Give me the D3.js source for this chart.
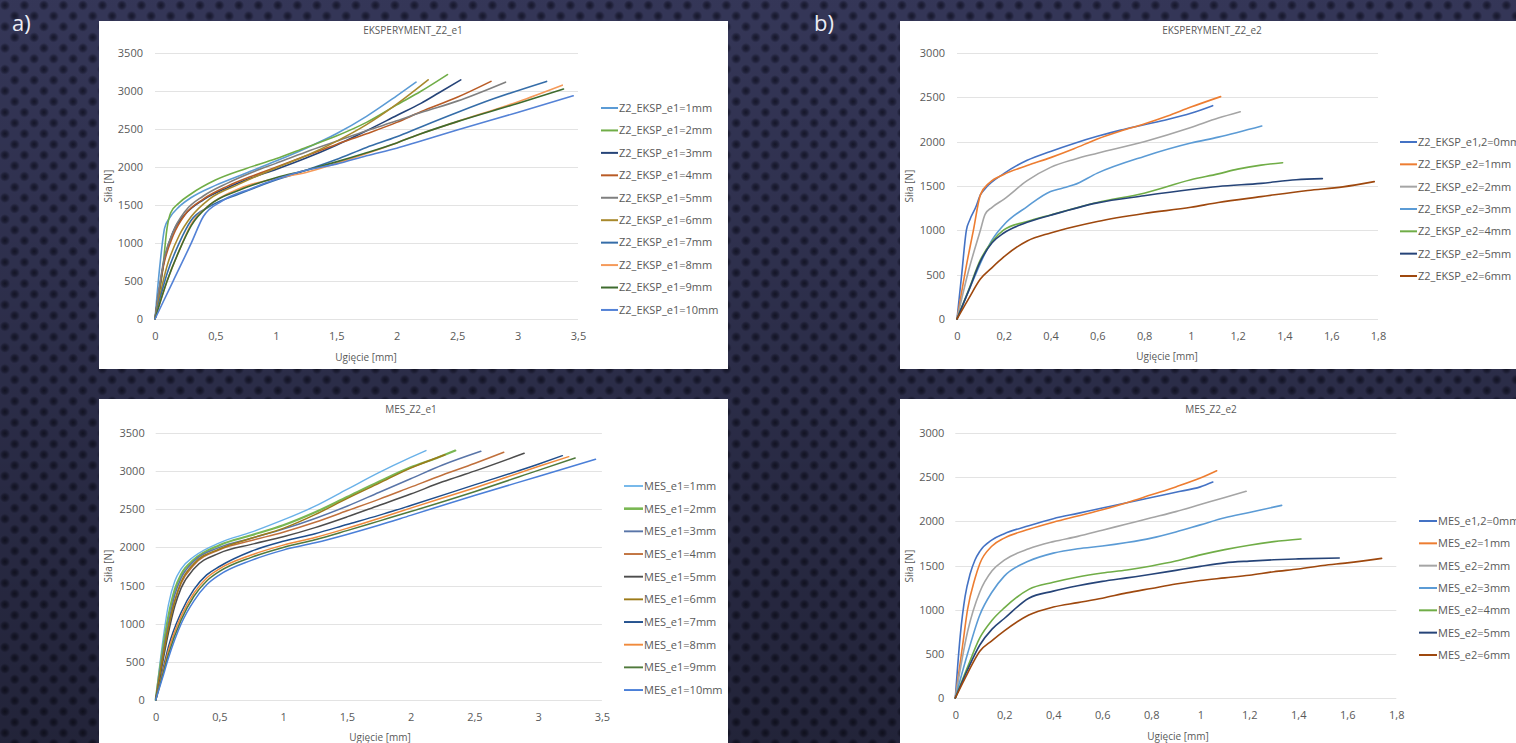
<!DOCTYPE html>
<html><head><meta charset="utf-8">
<script src="https://cdn.jsdelivr.net/npm/d3@7"></script>
<style>html,body{margin:0;padding:0;background:#2e2f4c;overflow:hidden}</style>
</head><body><svg id="c" width="1516" height="743"></svg>
<script>
// ---------------- DATA ----------------
const xTicksE1 = [0, 0.5, 1, 1.5, 2, 2.5, 3, 3.5];
const yTicksE1 = [0, 500, 1000, 1500, 2000, 2500, 3000, 3500];
const xTicksE2 = [0, 0.2, 0.4, 0.6, 0.8, 1, 1.2, 1.4, 1.6, 1.8];
const yTicksE2 = [0, 500, 1000, 1500, 2000, 2500, 3000];

const eksp_e1_labels = ["Z2_EKSP_e1=1mm","Z2_EKSP_e1=2mm","Z2_EKSP_e1=3mm","Z2_EKSP_e1=4mm","Z2_EKSP_e1=5mm","Z2_EKSP_e1=6mm","Z2_EKSP_e1=7mm","Z2_EKSP_e1=8mm","Z2_EKSP_e1=9mm","Z2_EKSP_e1=10mm"];
const eksp_e1_colors = ["#5B9BD5","#70AD47","#264478","#B95B25","#7F7F7F","#A8892C","#356DA8","#F59A5A","#3E6B2E","#5482D6"];
const eksp_e1_1 = [[0,0],[0.04,700],[0.08,1200],[0.12,1330],[0.2,1480],[0.3,1600],[0.5,1760],[0.75,1920],[1,2080],[1.25,2250],[1.5,2440],[1.75,2670],[2,2940],[2.16,3120]];
const eksp_e1_2 = [[0,0],[0.06,600],[0.1,1200],[0.13,1400],[0.2,1530],[0.3,1650],[0.5,1830],[0.75,1980],[1,2110],[1.25,2260],[1.5,2410],[1.75,2590],[2,2820],[2.2,3000],[2.42,3220]];
const eksp_e1_3 = [[0,0],[0.08,800],[0.15,1150],[0.25,1380],[0.4,1570],[0.6,1730],[0.8,1860],[1,1970],[1.25,2120],[1.5,2290],[1.75,2480],[2,2680],[2.2,2840],[2.35,2980],[2.53,3150]];
const eksp_e1_4 = [[0,0],[0.07,700],[0.15,1100],[0.25,1380],[0.4,1580],[0.6,1750],[0.8,1880],[1,2000],[1.25,2150],[1.5,2300],[1.75,2440],[2,2590],[2.2,2730],[2.5,2920],[2.78,3130]];
const eksp_e1_5 = [[0,0],[0.07,750],[0.15,1150],[0.25,1420],[0.4,1620],[0.6,1790],[0.8,1930],[1,2050],[1.25,2200],[1.5,2340],[1.75,2480],[2,2610],[2.2,2720],[2.5,2870],[2.9,3120]];
const eksp_e1_6 = [[0,0],[0.1,700],[0.2,1100],[0.3,1350],[0.45,1580],[0.7,1780],[1,1990],[1.25,2150],[1.5,2340],[1.75,2560],[2,2830],[2.26,3150]];
const eksp_e1_7 = [[0,0],[0.1,600],[0.2,1000],[0.3,1300],[0.45,1480],[0.7,1650],[1,1830],[1.25,1960],[1.5,2100],[1.75,2260],[2,2400],[2.2,2530],[2.5,2720],[2.8,2900],[3.24,3130]];
const eksp_e1_8 = [[0,0],[0.1,500],[0.2,900],[0.3,1250],[0.45,1500],[0.7,1720],[1,1850],[1.25,1930],[1.5,2050],[1.75,2180],[2,2320],[2.2,2440],[2.5,2600],[3,2860],[3.37,3080]];
const eksp_e1_9 = [[0,0],[0.1,500],[0.2,900],[0.3,1230],[0.45,1500],[0.7,1700],[1,1860],[1.25,1960],[1.5,2070],[1.75,2190],[2,2320],[2.2,2440],[2.5,2600],[3,2840],[3.38,3030]];
const eksp_e1_10 = [[0,0],[0.15,500],[0.3,1000],[0.4,1350],[0.55,1550],[0.8,1720],[1,1840],[1.25,1960],[1.5,2040],[1.75,2150],[2,2250],[2.18,2335],[2.5,2490],[3,2720],[3.46,2940]];

const mes_e1_labels = ["MES_e1=1mm","MES_e1=2mm","MES_e1=3mm","MES_e1=4mm","MES_e1=5mm","MES_e1=6mm","MES_e1=7mm","MES_e1=8mm","MES_e1=9mm","MES_e1=10mm"];
const mes_e1_colors = ["#69B1E8","#79B752","#5975A8","#C0703C","#4D4D4D","#9C7A18","#1F4E8C","#F08A3C","#507A3C","#4A7FD8"];
const mes_e1_1 = [[0,0],[0.05,700],[0.1,1250],[0.15,1560],[0.2,1720],[0.3,1880],[0.5,2060],[0.75,2200],[1,2360],[1.25,2540],[1.5,2760],[1.75,2980],[2,3180],[2.12,3270]];
const mes_e1_2 = [[0,0],[0.05,600],[0.1,1100],[0.15,1450],[0.2,1650],[0.3,1840],[0.5,2030],[0.75,2160],[1,2290],[1.25,2460],[1.5,2660],[1.75,2860],[2,3050],[2.2,3170],[2.35,3270]];
const mes_e1_3 = [[0,0],[0.05,550],[0.1,1000],[0.15,1380],[0.2,1600],[0.3,1820],[0.5,2000],[0.75,2120],[1,2240],[1.25,2380],[1.5,2540],[1.75,2720],[2,2900],[2.25,3080],[2.55,3260]];
const mes_e1_4 = [[0,0],[0.05,500],[0.1,950],[0.15,1300],[0.2,1530],[0.3,1770],[0.5,1970],[0.75,2090],[1,2200],[1.25,2330],[1.5,2480],[1.75,2630],[2,2790],[2.25,2950],[2.5,3100],[2.73,3247]];
const mes_e1_5 = [[0,0],[0.05,450],[0.1,880],[0.15,1230],[0.2,1470],[0.3,1720],[0.5,1925],[0.75,2040],[1,2140],[1.25,2260],[1.5,2400],[1.75,2550],[2,2700],[2.25,2860],[2.5,3000],[2.89,3234]];
const mes_e1_6 = [[0,0],[0.05,500],[0.1,950],[0.15,1300],[0.2,1550],[0.3,1790],[0.5,1980],[0.75,2120],[1,2250],[1.25,2430],[1.5,2640],[1.75,2840],[2,3040],[2.27,3216]];
const mes_e1_7 = [[0,0],[0.05,350],[0.1,700],[0.2,1150],[0.3,1450],[0.4,1640],[0.5,1750],[0.75,1950],[1,2080],[1.25,2180],[1.5,2300],[1.75,2420],[2,2550],[2.5,2820],[3,3090],[3.19,3203]];
const mes_e1_8 = [[0,0],[0.05,320],[0.1,650],[0.2,1100],[0.3,1400],[0.4,1600],[0.5,1720],[0.75,1900],[1,2030],[1.25,2130],[1.5,2250],[1.75,2380],[2,2515],[2.5,2780],[3,3060],[3.24,3190]];
const mes_e1_9 = [[0,0],[0.05,300],[0.1,600],[0.2,1050],[0.3,1360],[0.4,1560],[0.5,1685],[0.75,1870],[1,2000],[1.25,2100],[1.5,2220],[1.75,2345],[2,2470],[2.5,2730],[3,3010],[3.29,3173]];
const mes_e1_10 = [[0,0],[0.05,270],[0.1,550],[0.2,1000],[0.3,1300],[0.4,1510],[0.5,1640],[0.75,1830],[1,1965],[1.25,2060],[1.5,2170],[1.75,2290],[2,2420],[2.5,2680],[3,2930],[3.45,3156]];

const eksp_e2_labels = ["Z2_EKSP_e1,2=0mm","Z2_EKSP_e2=1mm","Z2_EKSP_e2=2mm","Z2_EKSP_e2=3mm","Z2_EKSP_e2=4mm","Z2_EKSP_e2=5mm","Z2_EKSP_e2=6mm"];
const e2_colors = ["#4472C4","#ED7D31","#A5A5A5","#5B9BD5","#70AD47","#264478","#9E480E"];
const eksp_e2_0 = [[0,0],[0.02,500],[0.04,1000],[0.055,1120],[0.08,1260],[0.1,1400],[0.12,1470],[0.2,1640],[0.3,1790],[0.4,1890],[0.5,1980],[0.6,2060],[0.7,2130],[0.8,2190],[0.9,2250],[1,2320],[1.093,2406]];
const eksp_e2_1 = [[0,0],[0.04,600],[0.07,1000],[0.1,1400],[0.14,1540],[0.2,1630],[0.3,1730],[0.4,1820],[0.5,1920],[0.6,2030],[0.7,2120],[0.8,2200],[0.9,2290],[1,2390],[1.127,2508]];
const eksp_e2_2 = [[0,0],[0.05,550],[0.1,1000],[0.12,1180],[0.15,1260],[0.2,1350],[0.3,1560],[0.4,1710],[0.5,1800],[0.6,1870],[0.8,2000],[1,2160],[1.117,2266],[1.211,2338]];
const eksp_e2_3 = [[0,0],[0.06,380],[0.12,742],[0.15,892],[0.2,1061],[0.3,1268],[0.4,1438],[0.45,1475],[0.5,1513],[0.6,1645],[0.8,1833],[1,1984],[1.117,2051],[1.303,2177]];
const eksp_e2_4 = [[0,0],[0.05,330],[0.1,666],[0.15,873],[0.2,1005],[0.3,1099],[0.4,1174],[0.6,1314],[0.8,1419],[1,1570],[1.117,1637],[1.2,1690],[1.3,1735],[1.392,1763]];
const eksp_e2_5 = [[0,0],[0.05,320],[0.1,650],[0.15,860],[0.2,970],[0.3,1090],[0.4,1170],[0.6,1310],[0.8,1390],[1,1460],[1.117,1494],[1.3,1530],[1.45,1570],[1.562,1583]];
const eksp_e2_6 = [[0,0],[0.05,230],[0.1,450],[0.15,580],[0.2,700],[0.3,880],[0.4,970],[0.5,1040],[0.6,1100],[0.8,1190],[1,1260],[1.117,1314],[1.3,1380],[1.5,1450],[1.65,1490],[1.784,1549]];

const mes_e2_labels = ["MES_e1,2=0mm","MES_e2=1mm","MES_e2=2mm","MES_e2=3mm","MES_e2=4mm","MES_e2=5mm","MES_e2=6mm"];
const mes_e2_0 = [[0,0],[0.02,700],[0.04,1150],[0.06,1400],[0.08,1560],[0.1,1660],[0.15,1790],[0.2,1860],[0.3,1950],[0.4,2030],[0.5,2090],[0.6,2150],[0.7,2210],[0.8,2270],[0.9,2330],[1,2390],[1.051,2445]];
const mes_e2_1 = [[0,0],[0.03,600],[0.05,1000],[0.08,1350],[0.1,1520],[0.15,1720],[0.2,1810],[0.3,1910],[0.4,1990],[0.5,2060],[0.6,2130],[0.7,2210],[0.8,2300],[0.9,2390],[1,2490],[1.067,2573]];
const mes_e2_2 = [[0,0],[0.05,750],[0.1,1200],[0.15,1440],[0.2,1560],[0.3,1690],[0.4,1770],[0.5,1830],[0.6,1900],[0.7,1970],[0.8,2040],[0.9,2110],[1,2190],[1.1,2270],[1.187,2340]];
const mes_e2_3 = [[0,0],[0.05,500],[0.1,940],[0.15,1200],[0.2,1380],[0.3,1550],[0.4,1640],[0.5,1690],[0.6,1720],[0.7,1760],[0.8,1810],[0.9,1880],[1,1960],[1.1,2040],[1.2,2100],[1.332,2181]];
const mes_e2_4 = [[0,0],[0.05,350],[0.1,680],[0.15,880],[0.2,1020],[0.3,1230],[0.4,1310],[0.5,1370],[0.6,1415],[0.7,1450],[0.8,1495],[0.9,1550],[1,1620],[1.1,1680],[1.2,1730],[1.3,1770],[1.411,1800]];
const mes_e2_5 = [[0,0],[0.05,320],[0.1,600],[0.15,780],[0.2,900],[0.3,1130],[0.4,1210],[0.5,1270],[0.6,1320],[0.7,1360],[0.8,1400],[0.9,1445],[1,1490],[1.1,1530],[1.2,1550],[1.3,1565],[1.4,1575],[1.567,1585]];
const mes_e2_6 = [[0,0],[0.05,280],[0.1,530],[0.15,650],[0.2,760],[0.3,940],[0.4,1030],[0.5,1080],[0.6,1130],[0.7,1190],[0.8,1240],[0.9,1290],[1,1330],[1.1,1360],[1.2,1390],[1.3,1430],[1.4,1460],[1.5,1500],[1.6,1530],[1.74,1581]];

// ---------------- DRAW ----------------
const W = 1516, H = 743;
const FONT = "'Open Sans', 'Noto Sans', sans-serif";
const TXT = "#595959";
const svg = d3.select("#c");
const defs = svg.append("defs");

// background texture
const rg = defs.append("radialGradient").attr("id", "dot");
rg.append("stop").attr("offset", "0%").attr("stop-color", "#15162a").attr("stop-opacity", 0.95);
rg.append("stop").attr("offset", "55%").attr("stop-color", "#1b1c34").attr("stop-opacity", 0.7);
rg.append("stop").attr("offset", "100%").attr("stop-color", "#1b1c34").attr("stop-opacity", 0);
const pat = defs.append("pattern").attr("id", "hex").attr("patternUnits", "userSpaceOnUse")
  .attr("width", 19.5).attr("height", 21.4);
pat.append("rect").attr("width", 19.5).attr("height", 21.4).attr("fill", "#393b5f");
pat.append("circle").attr("cx", 4.9).attr("cy", 5.3).attr("r", 5.2).attr("fill", "url(#dot)");
pat.append("circle").attr("cx", 14.65).attr("cy", 16.0).attr("r", 5.2).attr("fill", "url(#dot)");
const shade = defs.append("linearGradient").attr("id", "shade").attr("x1", 0).attr("y1", 0).attr("x2", 0).attr("y2", 1);
shade.append("stop").attr("offset", "0%").attr("stop-color", "#000").attr("stop-opacity", 0.08);
shade.append("stop").attr("offset", "100%").attr("stop-color", "#000").attr("stop-opacity", 0.4);
svg.append("rect").attr("width", W).attr("height", H).attr("fill", "url(#hex)");
svg.append("rect").attr("width", W).attr("height", H).attr("fill", "url(#shade)");

svg.append("text").attr("x", 12).attr("y", 31).text("a)")
  .attr("fill", "#ececf4").style("font-family", FONT).style("font-size", "22px");
svg.append("text").attr("x", 814).attr("y", 31).text("b)")
  .attr("fill", "#ececf4").style("font-family", FONT).style("font-size", "22px");

function fmtX(d) { return d3.format("~g")(d).replace(".", ","); }

function panel(o) {
  const g = svg.append("g");
  g.append("rect").attr("x", o.box[0]).attr("y", o.box[1]).attr("width", o.box[2]).attr("height", o.box[3]).attr("fill", "#fff");
  const x = d3.scaleLinear().domain([0, o.xMax]).range([o.plot[0], o.plot[1]]);
  const y = d3.scaleLinear().domain([0, o.yMax]).range([o.plot[3], o.plot[2]]);

  g.append("g").selectAll("line").data(o.yTicks).join("line")
    .attr("x1", x(0)).attr("x2", x(o.xMax))
    .attr("y1", d => Math.round(y(d)) + 0.5).attr("y2", d => Math.round(y(d)) + 0.5)
    .attr("stroke", "#e3e3e3").attr("stroke-width", 1);

  const ya = g.append("g").attr("transform", `translate(${x(0)},0)`)
    .call(d3.axisLeft(y).tickValues(o.yTicks).tickSize(0).tickPadding(o.yPad).tickFormat(d3.format("d")));
  ya.select(".domain").remove();
  ya.selectAll("text").attr("fill", TXT).style("font-family", FONT).style("font-size", "11px");

  const xa = g.append("g").attr("transform", `translate(0,${y(0)})`)
    .call(d3.axisBottom(x).tickValues(o.xTicks).tickSize(0).tickPadding(o.xPad).tickFormat(fmtX));
  xa.select(".domain").remove();
  xa.selectAll("text").attr("fill", TXT).style("font-family", FONT).style("font-size", "11px");

  g.append("text").attr("x", o.title[0]).attr("y", o.title[1]).attr("text-anchor", "middle")
    .attr("fill", TXT).style("font-family", FONT).style("font-size", "10px").text(o.titleText);
  g.append("text").attr("transform", `translate(${o.yLab[0]},${o.yLab[1]}) rotate(-90)`).attr("text-anchor", "middle")
    .attr("dy", "0.35em").attr("fill", TXT).style("font-family", FONT).style("font-size", "10px").text("Siła [N]");
  g.append("text").attr("x", o.xLab[0]).attr("y", o.xLab[1]).attr("text-anchor", "middle").attr("dy", "0.35em")
    .attr("fill", TXT).style("font-family", FONT).style("font-size", "10px").text("Ugięcie [mm]");

  const line = d3.line().x(d => x(d[0])).y(d => y(d[1])).curve(d3.curveMonotoneX);
  g.append("g").selectAll("path").data(o.series).join("path")
    .attr("d", d => line(d)).attr("fill", "none")
    .attr("stroke", (d, i) => o.colors[i]).attr("stroke-width", (d, i) => (o.widths ? o.widths[i] : 1.6))
    .attr("stroke-linejoin", "round").attr("stroke-linecap", "round");

  const lg = g.append("g");
  const items = lg.selectAll("g").data(o.labels).join("g")
    .attr("transform", (d, i) => `translate(0,${o.leg.y0 + i * o.leg.dy})`);
  items.append("line").attr("x1", o.leg.x).attr("x2", o.leg.x + o.leg.len).attr("y1", 0).attr("y2", 0)
    .attr("stroke", (d, i) => o.colors[i]).attr("stroke-width", (d, i) => (o.widths ? o.widths[i] : 1.6) + 0.4);
  items.append("text").attr("x", o.leg.x + o.leg.len + 1).attr("dy", "0.35em").attr("fill", TXT)
    .style("font-family", FONT).style("font-size", "11px").text(d => d);
}

panel({
  box: [99, 21, 629, 348], plot: [155, 578, 53.3, 319], xMax: 3.5, yMax: 3500,
  xTicks: xTicksE1, yTicks: yTicksE1, yPad: 12, xPad: 13,
  title: [413, 34], titleText: "EKSPERYMENT_Z2_e1", yLab: [108, 186], xLab: [366, 357],
  series: [eksp_e1_1, eksp_e1_2, eksp_e1_3, eksp_e1_4, eksp_e1_5, eksp_e1_6, eksp_e1_7, eksp_e1_8, eksp_e1_9, eksp_e1_10],
  colors: eksp_e1_colors, labels: eksp_e1_labels,
  leg: { x: 601, len: 17, y0: 108, dy: 22.44 }
});
panel({
  box: [99, 399, 629, 350], plot: [155.7, 601.9, 433, 700], xMax: 3.5, yMax: 3500,
  xTicks: xTicksE1, yTicks: yTicksE1, yPad: 11, xPad: 13,
  title: [411, 413], titleText: "MES_Z2_e1", yLab: [108, 566], xLab: [380, 737],
  series: [mes_e1_1, mes_e1_2, mes_e1_3, mes_e1_4, mes_e1_5, mes_e1_6, mes_e1_7, mes_e1_8, mes_e1_9, mes_e1_10],
  colors: mes_e1_colors, labels: mes_e1_labels, widths: [1.4, 2.2, 1.5, 1.5, 1.5, 1.5, 1.5, 1.5, 1.5, 1.5],
  leg: { x: 624, len: 19, y0: 486, dy: 22.67 }
});
panel({
  box: [900, 21, 620, 348], plot: [957, 1378, 53, 319], xMax: 1.8, yMax: 3000,
  xTicks: xTicksE2, yTicks: yTicksE2, yPad: 12, xPad: 13,
  title: [1212, 34], titleText: "EKSPERYMENT_Z2_e2", yLab: [909, 186], xLab: [1167, 356],
  series: [eksp_e2_0, eksp_e2_1, eksp_e2_2, eksp_e2_3, eksp_e2_4, eksp_e2_5, eksp_e2_6],
  colors: e2_colors, labels: eksp_e2_labels,
  leg: { x: 1400, len: 17, y0: 142, dy: 22.33 }
});
panel({
  box: [900, 399, 620, 350], plot: [955.3, 1396.3, 433, 698], xMax: 1.8, yMax: 3000,
  xTicks: xTicksE2, yTicks: yTicksE2, yPad: 11, xPad: 13,
  title: [1211, 413], titleText: "MES_Z2_e2", yLab: [909, 566], xLab: [1178, 736],
  series: [mes_e2_0, mes_e2_1, mes_e2_2, mes_e2_3, mes_e2_4, mes_e2_5, mes_e2_6],
  colors: e2_colors, labels: mes_e2_labels,
  leg: { x: 1419, len: 18, y0: 521, dy: 22.33 }
});
</script></body></html>
